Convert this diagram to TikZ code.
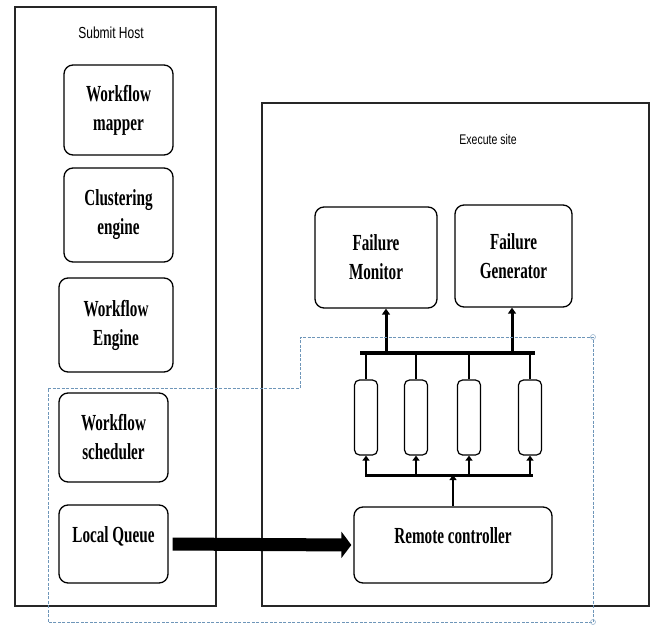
\documentclass[tikz,border=0pt]{standalone}
\usepackage{fontspec}
\usetikzlibrary{arrows.meta}
\newfontfamily\boxfont[FakeStretch=0.66]{Liberation Serif}
\newfontfamily\titlefont[FakeStretch=0.75]{Liberation Sans}
\definecolor{selblue}{RGB}{110,150,185}
\begin{document}
\begin{tikzpicture}[x=1pt, y=-1pt, >=Stealth,
	site/.style={draw=black!85, line width=1.3pt, minimum width=#1},
	unit/.style={draw, line width=1.3pt, rounded corners=9pt, align=center, inner sep=0pt,
		font=\boxfont\bfseries\fontsize{23}{29}\selectfont},
	slot/.style={draw, line width=1.2pt, rounded corners=5pt, minimum width=23pt, minimum height=75pt, inner sep=0pt},
	heading/.style={font=\titlefont\fontsize{#1}{18}\selectfont},
	bus/.style={line width=4pt},
	feed/.style={line width=3pt, -{Triangle[length=6pt, width=8pt]}}]
	\useasboundingbox (0,0) rectangle (655,628);
	% Submit Host
	\node[site=201pt, minimum height=599pt] (submit) at (115.5,306.5) {};
	\node[heading=16] (submitlbl) at (111,33) {Submit Host};
	\node[unit, minimum width=109pt, minimum height=90pt] (mapper) at (118.5,110) {Workflow\\mapper};
	\node[unit, minimum width=109pt, minimum height=94pt] (cluster) at (118.5,215) {Clustering\\engine};
	\node[unit, minimum width=114pt, minimum height=94pt] (engine) at (116,325) {Workflow\\Engine};
	\node[unit, minimum width=109pt, minimum height=89pt] (sched) at (113.5,437.5) {Workflow\\scheduler};
	\node[unit, minimum width=109pt, minimum height=78pt] (queue) at (113.5,544) {Local Queue\\[-10pt]~};
	% Execute site
	\node[site=387pt, minimum height=503pt] (execute) at (455.5,354.5) {};
	\node[heading=14] (execlbl) at (488,139) {Execute site};
	\node[unit, minimum width=122pt, minimum height=101pt] (monitor) at (376,257.5) {Failure\\Monitor};
	\node[unit, minimum width=117pt, minimum height=102pt] (generator) at (513.5,256) {Failure\\Generator};
	\node[unit, minimum width=198pt, minimum height=76pt] (remote) at (453,545) {Remote controller\\[-10pt]~};
	\foreach \i/\x in {1/366, 2/416, 3/469, 4/530}
		\node[slot] (s\i) at (\x,417.5) {};
	% buses
	\coordinate (busL) at (360,353);
	\coordinate (busR) at (535,353);
	\coordinate (lowL) at (365,475);
	\coordinate (lowR) at (533,475);
	\draw[bus] (busL) -- (busR);
	\draw[line width=3pt] (lowL) -- (lowR);
	\coordinate (upM) at (386,353);
	\coordinate (upG) at (512,353);
	\draw[feed] (upM) -- (upM |- monitor.south);
	\draw[feed] (upG) -- (upG |- generator.south);
	\foreach \i in {1,...,4} {
		\draw[line width=2pt] (s\i.north |- busL) -- (s\i.north);
		\draw[line width=2.5pt, -{Triangle[length=5pt, width=7pt]}] (s\i.south |- lowL) -- (s\i.south);
	}
	\draw[line width=2.5pt, -{Triangle[length=5pt, width=7pt]}] (remote.north) -- (remote.north |- lowL);
	% queue to controller
	\draw[line width=13pt, -{Triangle[length=10pt, width=26pt]}, shorten <=4pt, shorten >=2pt] (queue.east) -- (remote.west);
	% selection outline
	\draw[selblue, line width=0.9pt, dash pattern=on 3pt off 1.5pt]
		(48,388) -- (300,388) -- (300,337) -- (593,337) -- (593,622) -- (48,622) -- cycle;
	\draw[selblue!70, line width=0.6pt] (593,337) circle (2.5) (593,622) circle (2.5);
\end{tikzpicture}
\end{document}
